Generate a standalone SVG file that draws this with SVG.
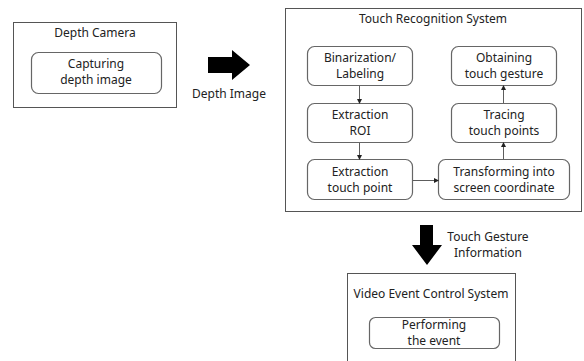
<svg xmlns="http://www.w3.org/2000/svg" width="584" height="361" viewBox="0 0 584 361">
<defs>
<marker id="ah" markerWidth="5" markerHeight="5" refX="4" refY="2.5" orient="auto" markerUnits="userSpaceOnUse">
<path d="M0,0 L5,2.5 L0,5 Z" fill="#222"/>
</marker>
<style>
.outer{fill:#fff;stroke:#555;stroke-width:1}
.inner{fill:#fff;stroke:#666;stroke-width:1.2}
text{font-family:"Noto Sans","Open Sans",sans-serif;font-size:12px;fill:#222;text-anchor:middle}
.conn{stroke:#333;stroke-width:0.8;fill:none;marker-end:url(#ah)}
</style>
</defs>
<rect width="584" height="361" fill="#fff"/>
<g id="depth-camera">
<rect class="outer" x="13.5" y="22.5" width="163" height="85"/>
<text x="95" y="37">Depth Camera</text>
<rect class="inner" x="31.5" y="52.5" width="130" height="41" rx="7"/>
<text x="96" y="68">Capturing</text>
<text x="96" y="84">depth image</text>
</g>
<g id="depth-image-arrow">
<path d="M208,57 H232 V50 L250,65 L232,80 V73 H208 Z" fill="#000"/>
<text x="229" y="98">Depth Image</text>
</g>
<g id="touch-recognition-system">
<rect class="outer" x="285.5" y="8.5" width="296" height="203"/>
<text x="433" y="23">Touch Recognition System</text>
</g>
<g id="binarization">
<rect class="inner" x="307.5" y="46.5" width="105" height="39" rx="7"/>
<text x="360" y="62">Binarization/</text>
<text x="360" y="78">Labeling</text>
</g>
<g id="extraction-roi">
<rect class="inner" x="307.5" y="103.5" width="105" height="39" rx="7"/>
<text x="360" y="119">Extraction</text>
<text x="360" y="135">ROI</text>
</g>
<g id="extraction-touch-point">
<rect class="inner" x="307.5" y="159.5" width="105" height="40" rx="7"/>
<text x="360" y="176">Extraction</text>
<text x="360" y="192">touch point</text>
</g>
<g id="transforming">
<rect class="inner" x="438.5" y="159.5" width="131" height="40" rx="7"/>
<text x="504" y="176">Transforming into</text>
<text x="504" y="192">screen coordinate</text>
</g>
<g id="tracing">
<rect class="inner" x="451.5" y="103.5" width="105" height="39" rx="7"/>
<text x="504" y="119">Tracing</text>
<text x="504" y="135">touch points</text>
</g>
<g id="obtaining">
<rect class="inner" x="451.5" y="46.5" width="105" height="39" rx="7"/>
<text x="504" y="62">Obtaining</text>
<text x="504" y="78">touch gesture</text>
</g>
<g id="connectors">
<line class="conn" x1="359.5" y1="86" x2="359.5" y2="103"/>
<line class="conn" x1="359.5" y1="143" x2="359.5" y2="159"/>
<line class="conn" x1="413" y1="180.5" x2="438" y2="180.5"/>
<line class="conn" x1="503.5" y1="159" x2="503.5" y2="143"/>
<line class="conn" x1="503.5" y1="103" x2="503.5" y2="86"/>
</g>
<g id="touch-gesture-arrow">
<path d="M420,225 H433 V245 H442 L427,265 L412,245 H420 Z" fill="#000"/>
<text x="488" y="241">Touch Gesture</text>
<text x="488" y="257">Information</text>
</g>
<g id="video-event-control-system">
<rect class="outer" x="347.5" y="273.5" width="168" height="95"/>
<text x="431" y="298">Video Event Control System</text>
<rect class="inner" x="369.5" y="317.5" width="130" height="31" rx="6"/>
<text x="434" y="329" font-size="11.5">Performing</text>
<text x="434" y="345" font-size="11.5">the event</text>
</g>
</svg>
